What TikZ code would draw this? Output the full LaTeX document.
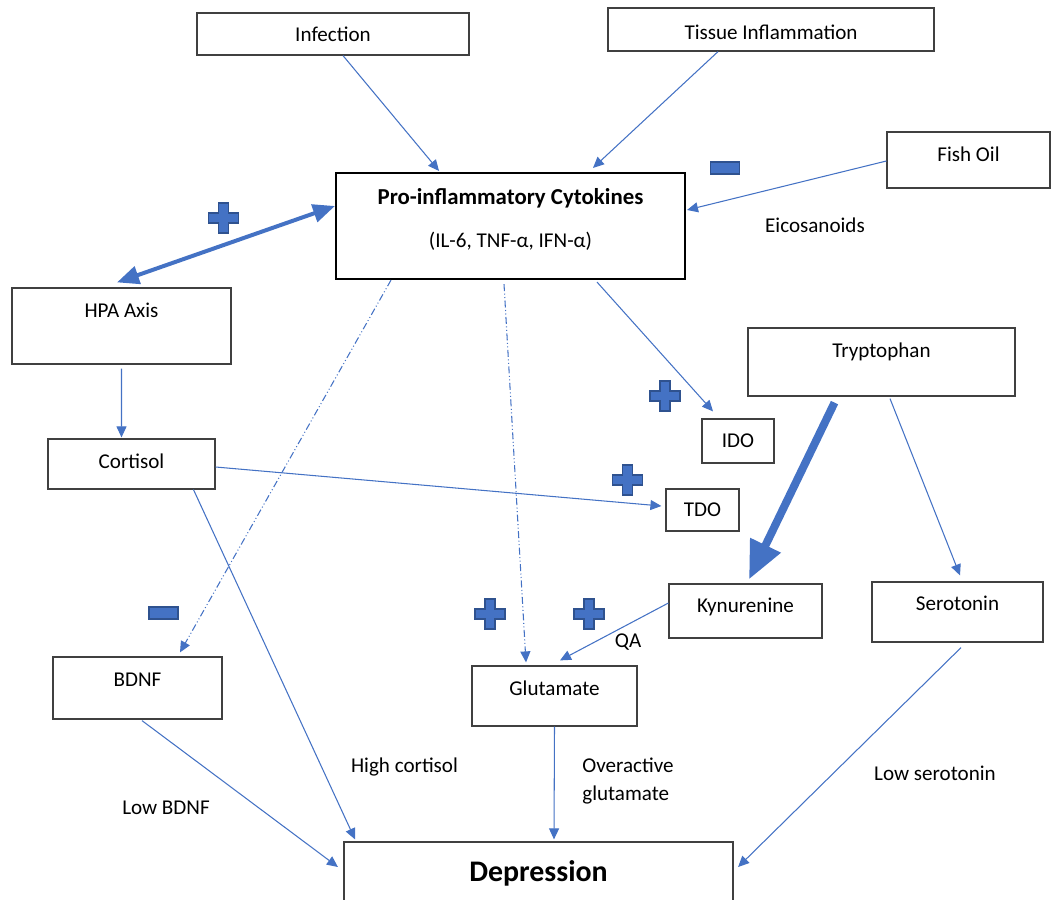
\documentclass[tikz,border=0pt]{standalone}
\usepackage{fontspec}
\setmainfont{Carlito}
\usepackage{tikz}
\usetikzlibrary{arrows.meta}
\definecolor{linkB}{RGB}{68,114,196}
\definecolor{signB}{RGB}{68,114,196}
\definecolor{signE}{RGB}{47,82,143}
\definecolor{boxE}{RGB}{64,64,64}

\begin{document}
\begin{tikzpicture}[x=0.02cm, y=-0.02cm,
  font=\fontsize{12}{14.4}\selectfont,
  >={Triangle[length=0.22cm,width=0.2cm]},
  box/.style={rectangle, draw=boxE, line width=0.7pt, align=center, inner sep=2pt},
  link/.style={->, linkB, line width=0.6pt},
  dashlink/.style={link, dash pattern=on 0.14cm off 0.05cm on 0.02cm off 0.05cm on 0.02cm off 0.05cm},
  signline/.style={draw=signE, fill=signB, line width=0.6pt},
  plussign/.pic={\draw[signline] (-5,-15) -- (5,-15) -- (5,-5) -- (15,-5) -- (15,5) -- (5,5)
      -- (5,15) -- (-5,15) -- (-5,5) -- (-15,5) -- (-15,-5) -- (-5,-5) -- cycle;},
  minussign/.pic={\draw[signline] (-14.5,-6) rectangle (14.5,6);}]

  \useasboundingbox (0,0) rectangle (1051,899);
  \clip (0,0) rectangle (1051,899);

  % boxes
  \node[box, minimum width=5.44cm, minimum height=0.84cm] (inf) at (333,34) {Infection};
  \node[box, minimum width=6.52cm, minimum height=0.86cm, text height=11pt] (tis) at (771,29.5) {Tissue Inflammation};
  \node[box, minimum width=3.26cm, minimum height=1.12cm, text depth=6.8pt] (fish) at (968.5,160) {Fish Oil};
  \node[box, draw=black, line width=1.2pt, minimum width=6.98cm, minimum height=2.12cm, text depth=9pt] (cyt) at (510.5,226)
    {{\fontsize{13}{15}\selectfont\bfseries Pro-inflammatory Cytokines}\\[10pt] (IL-6, TNF-α, IFN-α)};
  \node[box, minimum width=4.38cm, minimum height=1.52cm, text depth=18pt] (hpa) at (121.5,326) {HPA Axis};
  \node[box, minimum width=3.34cm, minimum height=1.0cm, text depth=3.4pt] (cort) at (131.5,464) {Cortisol};
  \node[box, minimum width=5.34cm, minimum height=1.36cm, text depth=14pt] (tryp) at (881.5,362) {Tryptophan};
  \node[box, minimum width=1.44cm, minimum height=0.88cm] (ido) at (738,441) {IDO};
  \node[box, minimum width=1.46cm, minimum height=0.84cm] (tdo) at (702.5,510) {TDO};
  \node[box, minimum width=3.06cm, minimum height=1.08cm, text depth=7pt] (kyn) at (745.5,611) {Kynurenine};
  \node[box, minimum width=3.42cm, minimum height=1.2cm, text depth=10.2pt] (sero) at (957.5,612) {Serotonin};
  \node[box, minimum width=3.38cm, minimum height=1.24cm, text depth=9pt] (bdnf) at (137.5,688) {BDNF};
  \node[box, minimum width=3.3cm, minimum height=1.2cm, text depth=9pt] (glu) at (554.5,696) {Glutamate};
  \node[box, minimum width=7.78cm, minimum height=1.24cm] (dep) at (538.5,873)
    {\fontsize{17}{20}\selectfont\bfseries Depression};

  % connectors
  \draw[link] ([xshift=0.2cm]inf.south) -- ([xshift=-1.43cm,yshift=0.02cm]cyt.north);
  \draw[link] ([xshift=-1.06cm]tis.south) -- ([xshift=1.65cm,yshift=0.08cm]cyt.north);
  \draw[link] ([yshift=-0.02cm]fish.west) -- ([xshift=0.02cm,yshift=0.32cm]cyt.east);
  \draw[<->, linkB, line width=0.08cm, >={Triangle[length=0.44cm,width=0.36cm]}]
    ([xshift=-0.09cm,yshift=0.1cm]hpa.north) -- ([yshift=0.4cm]cyt.west);
  \draw[dashlink] ([xshift=-2.39cm]cyt.south) -- ([xshift=0.85cm,yshift=0.08cm]bdnf.north);
  \draw[dashlink] ([xshift=-0.13cm,yshift=-0.08cm]cyt.south) -- ([xshift=-0.57cm,yshift=0.06cm]glu.north);
  \draw[link] ([xshift=1.73cm,yshift=-0.04cm]cyt.south) -- ([xshift=-0.5cm,yshift=0.14cm]ido.north);
  \draw[link] ([yshift=-0.08cm]hpa.south) -- ([xshift=-0.2cm,yshift=0.02cm]cort.north);
  \draw[link] ([yshift=-0.06cm]cort.east) -- ([xshift=-0.08cm,yshift=0.08cm]tdo.west);
  \draw[link] ([xshift=1.24cm]cort.south) -- ([xshift=-3.67cm,yshift=0.04cm]dep.north);
  \draw[->, linkB, line width=0.16cm, >={Triangle[length=0.76cm,width=0.64cm]}]
    ([xshift=-0.94cm,yshift=-0.12cm]tryp.south) -- ([xshift=0.07cm,yshift=0.08cm]kyn.north);
  \draw[link] ([xshift=0.17cm,yshift=-0.04cm]tryp.south) -- ([xshift=0.05cm,yshift=0.12cm]sero.north);
  \draw[link] ([yshift=0.16cm]kyn.west) -- ([xshift=0.11cm,yshift=0.1cm]glu.north);
  \draw[link] ([xshift=0.09cm,yshift=-0.02cm]bdnf.south) -- ([xshift=-0.11cm,yshift=0.12cm]dep.west);
  \draw[link] (glu.south) -- ([xshift=0.31cm,yshift=0.04cm]dep.north);
  \draw[link] ([xshift=0.07cm,yshift=-0.1cm]sero.south) -- ([xshift=0.09cm,yshift=0.12cm]dep.east);

  % labels on the links
  \node (eico) at (815,225) {Eicosanoids};
  \node (qa) at (628,642) {QA};
  \node (highc) at (404.5,767) {High cortisol};
  \node[anchor=west, align=left, font=\fontsize{12}{16}\selectfont, inner sep=0pt] (overg) at (582,781) {Overactive\\glutamate};
  \node (lows) at (935,773) {Low serotonin};
  \node (lowb) at (166,808) {Low BDNF};

  % plus and minus signs
  \foreach \p in {(223.5,218),(665,396),(627.5,480),(490,614),(589,614)}
    \pic at \p {plussign};
  \foreach \p in {(725,168),(163.5,613)}
    \pic at \p {minussign};
\end{tikzpicture}
\end{document}
